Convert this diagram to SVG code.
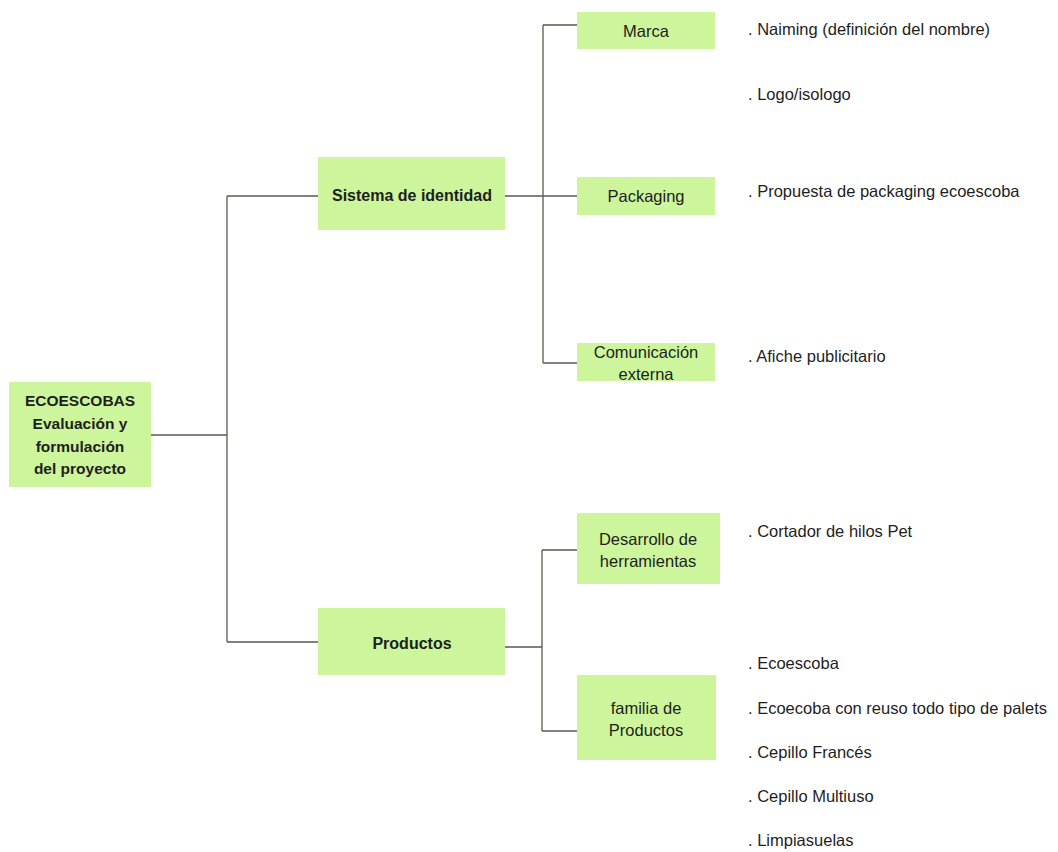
<svg xmlns="http://www.w3.org/2000/svg" width="1058" height="852" viewBox="0 0 1058 852">
<style>
.box{fill:#ccf59c;}
.t{font-family:"Liberation Sans","Noto Sans",sans-serif;font-size:16.5px;fill:#1e1e1e;}
.tb{font-family:"Liberation Sans","Noto Sans",sans-serif;font-size:16px;font-weight:bold;fill:#1e1e1e;}
.tr{font-family:"Liberation Sans","Noto Sans",sans-serif;font-size:15.5px;font-weight:bold;fill:#1e1e1e;}
.c{text-anchor:middle;}
.ln{fill:none;stroke:#5a5a4c;stroke-width:1.3;}
</style>
<rect width="1058" height="852" fill="#ffffff"/>
<g id="connectors">
<path class="ln" d="M151 435 H227 M227 196 V642 M227 196 H318 M227 642 H318"/>
<path class="ln" d="M505 196 H543 M543 25 V363 M543 25 H577 M543 196 H577 M543 363 H577"/>
<path class="ln" d="M505 647 H542 M542 550 V731 M542 550 H577 M542 731 H577"/>
</g>
<g id="root">
<rect class="box" x="9" y="382" width="142" height="105"/>
<text class="tr c" x="80" y="406">ECOESCOBAS</text>
<text class="tr c" x="80" y="429">Evaluación y</text>
<text class="tr c" x="80" y="452">formulación</text>
<text class="tr c" x="80" y="474">del proyecto</text>
</g>
<g id="sistema">
<rect class="box" x="318" y="157" width="187" height="73"/>
<text class="tb c" x="412" y="201">Sistema de identidad</text>
</g>
<g id="productos">
<rect class="box" x="318" y="608" width="187" height="67"/>
<text class="tb c" x="412" y="649">Productos</text>
</g>
<g id="marca">
<rect class="box" x="577" y="12" width="138" height="37"/>
<text class="t c" x="646" y="37">Marca</text>
</g>
<g id="packaging">
<rect class="box" x="577" y="177" width="138" height="38"/>
<text class="t c" x="646" y="202">Packaging</text>
</g>
<g id="comunicacion">
<rect class="box" x="577" y="343" width="138" height="38"/>
<text class="t c" x="646" y="358">Comunicación</text>
<text class="t c" x="646" y="380">externa</text>
</g>
<g id="desarrollo">
<rect class="box" x="577" y="513" width="143" height="71"/>
<text class="t c" x="648" y="545">Desarrollo de</text>
<text class="t c" x="648" y="567">herramientas</text>
</g>
<g id="familia">
<rect class="box" x="577" y="675" width="139" height="85"/>
<text class="t c" x="646" y="714">familia de</text>
<text class="t c" x="646" y="736">Productos</text>
</g>
<g id="items">
<text class="t" x="748" y="35">. Naiming (definición del nombre)</text>
<text class="t" x="748" y="100">. Logo/isologo</text>
<text class="t" x="748" y="197">. Propuesta de packaging ecoescoba</text>
<text class="t" x="748" y="362">. Afiche publicitario</text>
<text class="t" x="748" y="537">. Cortador de hilos Pet</text>
<text class="t" x="748" y="669">. Ecoescoba</text>
<text class="t" x="748" y="714">. Ecoecoba con reuso todo tipo de palets</text>
<text class="t" x="748" y="758">. Cepillo Francés</text>
<text class="t" x="748" y="802">. Cepillo Multiuso</text>
<text class="t" x="748" y="846">. Limpiasuelas</text>
</g>
</svg>
